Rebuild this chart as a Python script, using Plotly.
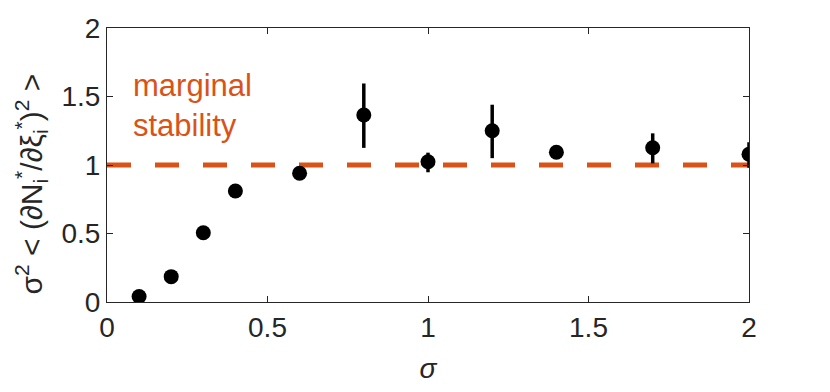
import plotly.graph_objects as go

sigma = [0.1, 0.2, 0.3, 0.4, 0.6, 0.8, 1.0, 1.2, 1.4, 1.7, 2.0]
value = [0.04, 0.185, 0.505, 0.81, 0.94, 1.365, 1.024, 1.25, 1.093, 1.126, 1.078]
err_plus = [0.0, 0.0, 0.0, 0.0, 0.03, 0.23, 0.066, 0.19, 0.0, 0.105, 0.088]
err_minus = [0.0, 0.0, 0.0, 0.0, 0.04, 0.24, 0.077, 0.20, 0.0, 0.114, 0.098]
stability_level = 1.0
x_ticks = [0, 0.5, 1, 1.5, 2]
y_ticks = [0, 0.5, 1, 1.5, 2]
x_tick_text = ["0", "0.5", "1", "1.5", "2"]
y_tick_text = ["0", "0.5", "1", "1.5", "2"]

orange = "#D95319"
axis_col = "#262626"
font = "Liberation Sans, Arial, sans-serif"

fig = go.Figure()
fig.add_trace(go.Scatter(
    x=[0, 2], y=[stability_level, stability_level], mode="lines",
    line=dict(color=orange, width=5, dash="24px,24px"),
    hoverinfo="skip", showlegend=False,
))
fig.add_trace(go.Scatter(
    x=sigma, y=value, mode="markers",
    marker=dict(color="black", size=15),
    error_y=dict(type="data", array=err_plus, arrayminus=err_minus,
                 color="black", thickness=3.5, width=0, symmetric=False),
    showlegend=False,
))

fig.add_annotation(
    x=0.075, y=1.725, xref="x", yref="y", xanchor="left", yanchor="top",
    text="marginal<br>stability", showarrow=False, align="left",
    font=dict(family=font, size=31, color=orange),
)

# y-axis label as rotated annotation
fig.add_annotation(
    x=-0.118, y=0.43, xref="paper", yref="paper", xanchor="center", yanchor="middle",
    text="σ<sup>2</sup> < (∂N<sub>i</sub><sup>*</sup>/∂ξ<sub>i</sub><sup>*</sup>)<sup>2</sup> >",
    textangle=-90, showarrow=False,
    font=dict(family=font, size=30, color=axis_col),
)

axis_common = dict(
    showline=True, linecolor=axis_col, linewidth=1, mirror="ticks",
    ticks="inside", ticklen=6, tickcolor=axis_col, tickwidth=1,
    showgrid=False, zeroline=False, automargin=False,
    tickfont=dict(family=font, size=28, color=axis_col),
)

fig.update_layout(
    width=830, height=392,
    margin=dict(l=99, r=89, t=20, b=98),
    plot_bgcolor="white", paper_bgcolor="white",
    xaxis=dict(range=[0, 2], tickvals=x_ticks, ticktext=x_tick_text,
               title=dict(text="<i>σ</i>", font=dict(family=font, size=28, color=axis_col), standoff=16),
               **axis_common),
    yaxis=dict(range=[0, 2], tickvals=y_ticks, ticktext=y_tick_text, **axis_common),
)

fig.write_html("out.html")
